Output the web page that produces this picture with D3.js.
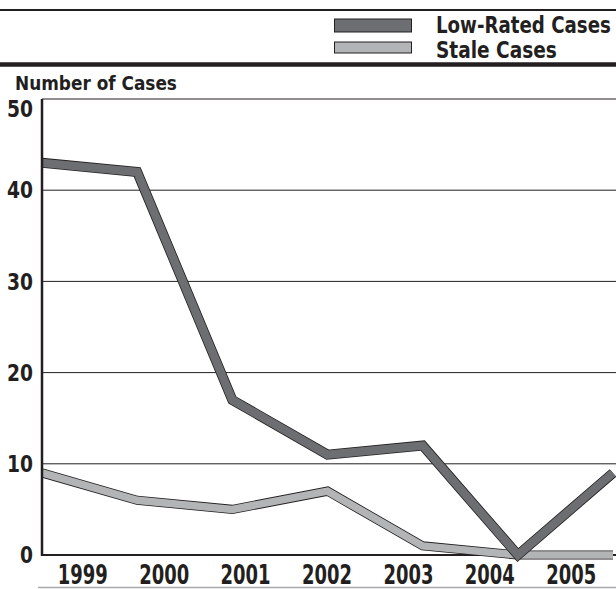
<!DOCTYPE html>
<html>
<head>
<meta charset="utf-8">
<script src="https://cdn.jsdelivr.net/npm/d3@7"></script>
<style>
  body { margin: 0; background: #fff; }
  text { font-family: "DejaVu Sans Condensed", "Liberation Sans", sans-serif; font-weight: bold; fill: #231f20; }
</style>
</head>
<body>
<div id="chart"></div>
<script>
// chart data
var years = ["1999", "2000", "2001", "2002", "2003", "2004", "2005"];
var lowRated = [43, 42, 17, 11, 12, 0, 9];
var stale = [9, 6, 5, 7, 1, 0, 0];
var yTicks = [0, 10, 20, 30, 40, 50];
var seriesNames = ["Low-Rated Cases", "Stale Cases"];

var width = 616, height = 589;
var dark = "#6d6e71", light = "#b3b4b6", ink = "#231f20";

var svg = d3.select("#chart").append("svg")
    .attr("width", width)
    .attr("height", height);

var x = d3.scalePoint().domain(years).range([42, 613]);
var xLabel = d3.scaleBand().domain(years).range([42, 612]);
var y = d3.scaleLinear().domain([0, 50]).range([555, 99]);

// squeeze a text horizontally to a target width (the reference uses a condensed face)
function squeeze(sel, targetW, px, py, anchor) {
    sel.each(function(d, i) {
        var node = d3.select(this);
        var tw = typeof targetW === "function" ? targetW(d, i) : targetW;
        var nat = this.getComputedTextLength();
        var sx = nat > 0 ? tw / nat : 1;
        var ax = typeof px === "function" ? px(d, i) : px;
        var ay = typeof py === "function" ? py(d, i) : py;
        node.attr("x", 0).attr("y", 0).attr("text-anchor", anchor || "start")
            .attr("transform", "translate(" + ax + "," + ay + ") scale(" + sx + ",1)");
    });
}

// header rules
svg.append("line").attr("x1", 0).attr("x2", width).attr("y1", 10).attr("y2", 10)
    .attr("stroke", ink).attr("stroke-width", 1.8);
svg.append("line").attr("x1", 0).attr("x2", width).attr("y1", 64.5).attr("y2", 64.5)
    .attr("stroke", ink).attr("stroke-width", 4.5);

// legend
var legend = svg.append("g");
var swatches = [{ name: seriesNames[0], color: dark, y: 19, h: 13, ty: 33, w: 175 },
                { name: seriesNames[1], color: light, y: 42, h: 11, ty: 57.5, w: 121 }];
legend.selectAll("rect").data(swatches).enter().append("rect")
    .attr("x", 334.5).attr("y", function(d) { return d.y; })
    .attr("width", 77).attr("height", function(d) { return d.h; })
    .attr("fill", function(d) { return d.color; })
    .attr("stroke", ink).attr("stroke-width", 1);
legend.selectAll("text").data(swatches).enter().append("text")
    .style("font-size", "23px")
    .text(function(d) { return d.name; })
    .call(squeeze, function(d) { return d.w; }, 436, function(d) { return d.ty; });

// y axis title
svg.append("text")
    .style("font-size", "20px")
    .text("Number of Cases")
    .call(squeeze, 162, 15, 90);

// gridlines
svg.append("g").selectAll("line").data(yTicks.filter(function(d) { return d > 0; })).enter()
    .append("line")
    .attr("x1", 42).attr("x2", width)
    .attr("y1", function(d) { return y(d); }).attr("y2", function(d) { return y(d); })
    .attr("stroke", ink).attr("stroke-width", 1);

// y tick labels
svg.append("g").selectAll("text").data(yTicks).enter().append("text")
    .attr("dy", "0.36em")
    .style("font-size", "23px")
    .text(function(d) { return d; })
    .call(squeeze, function(d) { return String(d).length * 13; }, 33,
          function(d) { return y(d) + (d == 50 ? 10 : 0); }, "end");

// lines
var line = d3.line()
    .x(function(d, i) { return x(years[i]); })
    .y(function(d) { return y(d); });

svg.append("clipPath").attr("id", "plot-clip")
    .append("rect").attr("x", 42).attr("y", 0).attr("width", width - 42).attr("height", height);

function drawSeries(values, fill, w) {
    var g = svg.append("g").attr("clip-path", "url(#plot-clip)");
    g.append("path").datum(values).attr("d", line)
        .attr("fill", "none").attr("stroke", ink)
        .attr("stroke-width", w + 1.6).attr("stroke-linejoin", "miter");
    g.append("path").datum(values).attr("d", line)
        .attr("fill", "none").attr("stroke", fill)
        .attr("stroke-width", w).attr("stroke-linejoin", "miter");
}

// x axis line
svg.append("line").attr("x1", 42).attr("x2", width).attr("y1", y(0)).attr("y2", y(0))
    .attr("stroke", ink).attr("stroke-width", 2);

drawSeries(stale, light, 7.5);
drawSeries(lowRated, dark, 8.4);

// y axis line
svg.append("line").attr("x1", 42).attr("x2", 42).attr("y1", y(50)).attr("y2", y(0) + 1)
    .attr("stroke", ink).attr("stroke-width", 2.5);

// x tick labels
svg.append("g").selectAll("text").data(years).enter().append("text")
    .style("font-size", "26px")
    .text(function(d) { return d; })
    .call(squeeze, 50, function(d) { return xLabel(d) + xLabel.bandwidth() / 2; }, 584, "middle");

// bottom rule
svg.append("line").attr("x1", 38).attr("x2", width).attr("y1", 587.5).attr("y2", 587.5)
    .attr("stroke", "#a7a9ac").attr("stroke-width", 1.5);
</script>
</body>
</html>
